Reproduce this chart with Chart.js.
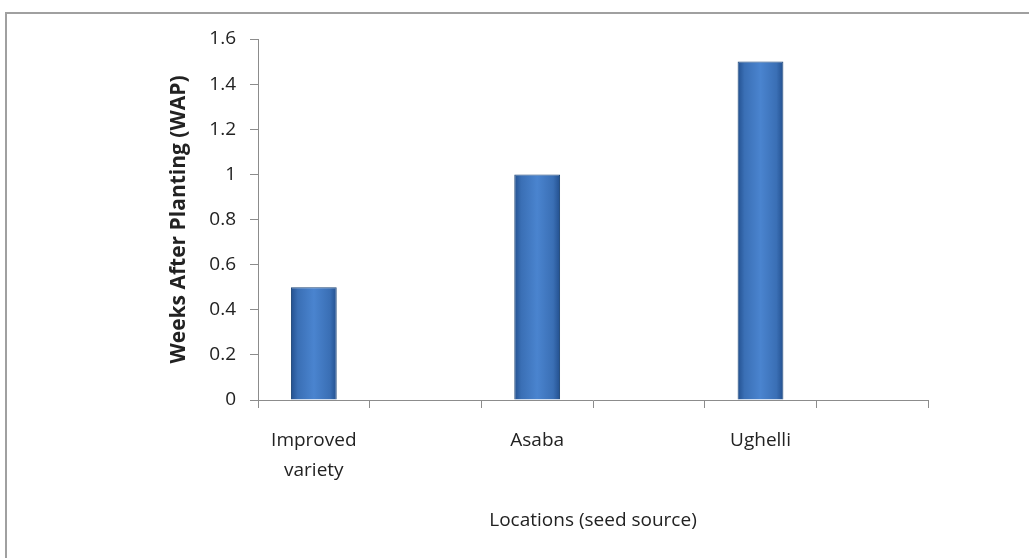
<!DOCTYPE html>
<html>
<head>
<meta charset="utf-8">
<script src="https://cdn.jsdelivr.net/npm/chart.js@4"></script>
<style>
  html, body { margin: 0; padding: 0; background: #fff; }
  #wrap { position: relative; width: 1029px; height: 558px; overflow: hidden; }
  #frame { position: absolute; left: 5px; top: 12px; width: 1100px; height: 600px;
           border-left: 2px solid #a0a0a0; border-top: 2px solid #a0a0a0; }
  canvas { position: absolute; left: 0; top: 0; }
</style>
</head>
<body>
<div id="wrap">
  <div id="frame"></div>
  <canvas id="chart-bar" width="1029" height="558"></canvas>
</div>
<script>
// categories as laid out in the original (blank slots between locations)
var locations = [["Improved", "variety"], "", "Asaba", "", "Ughelli", ""];
var wapValues = [0.5, null, 1.0, null, 1.5, null];
var yTicks = [0, 0.2, 0.4, 0.6, 0.8, 1, 1.2, 1.4, 1.6];
var barPct = 0.41;

function barFill(context) {
    var chart = context.chart;
    var xs = chart.scales && chart.scales.x;
    if (!chart.chartArea || !xs) return "#3d73b8";
    var cx = xs.getPixelForValue(context.dataIndex);
    var half = xs.width / locations.length * barPct / 2;
    if (!isFinite(cx) || !isFinite(half)) return "#3d73b8";
    var g = chart.ctx.createLinearGradient(cx - half, 0, cx + half, 0);
    g.addColorStop(0, "#23508f");
    g.addColorStop(0.15, "#3a6fb5");
    g.addColorStop(0.5, "#4a84cf");
    g.addColorStop(0.85, "#3a6fb5");
    g.addColorStop(1, "#23508f");
    return g;
}

function BarChart() {
    var ctx = document.getElementById("chart-bar").getContext("2d");

    new Chart(ctx, {
        type: "bar",
        data: {
            labels: locations,
            datasets: [{
                data: wapValues,
                backgroundColor: barFill,
                borderColor: "#1d4677",
                borderWidth: 1,
                barPercentage: barPct,
                categoryPercentage: 1.0,
                skipNull: true
            }]
        },
        options: {
            responsive: false,
            animation: false,
            layout: {
                padding: { left: 162, right: 101, top: 39, bottom: 22 }
            },
            plugins: {
                legend: { display: false },
                tooltip: { enabled: false }
            },
            scales: {
                y: {
                    min: 0,
                    max: 1.6,
                    afterFit: function (s) { s.width = 96; },
                    afterBuildTicks: function (s) {
                        s.ticks = yTicks.map(function (v) { return { value: v }; });
                    },
                    border: { display: true, color: "#8c8c8c", width: 1 },
                    grid: {
                        display: true,
                        drawOnChartArea: false,
                        drawTicks: true,
                        tickLength: 8,
                        color: "#8c8c8c"
                    },
                    ticks: {
                        color: "#222",
                        padding: 14,
                        font: { size: 19, family: "Open Sans" },
                        callback: function (v) { return String(v); }
                    },
                    title: {
                        display: true,
                        text: "Weeks After Planting (WAP)",
                        color: "#222",
                        padding: { top: 4, bottom: 4 },
                        font: { size: 21, weight: "bold", family: "Open Sans" }
                    }
                },
                x: {
                    offset: true,
                    afterFit: function (s) { s.height = 558 - 22 - 400; },
                    border: { display: true, color: "#8c8c8c", width: 1 },
                    grid: {
                        display: true,
                        offset: true,
                        drawOnChartArea: false,
                        drawTicks: true,
                        tickLength: 8,
                        color: "#8c8c8c"
                    },
                    ticks: {
                        color: "#222",
                        padding: 18,
                        maxRotation: 0,
                        autoSkip: false,
                        font: { size: 19, family: "Open Sans", lineHeight: 1.58 }
                    },
                    title: {
                        display: true,
                        text: "Locations (seed source)",
                        color: "#222",
                        padding: { top: 4, bottom: 4 },
                        font: { size: 19, family: "Open Sans" }
                    }
                }
            }
        }
    });
}

BarChart();
</script>
</body>
</html>
